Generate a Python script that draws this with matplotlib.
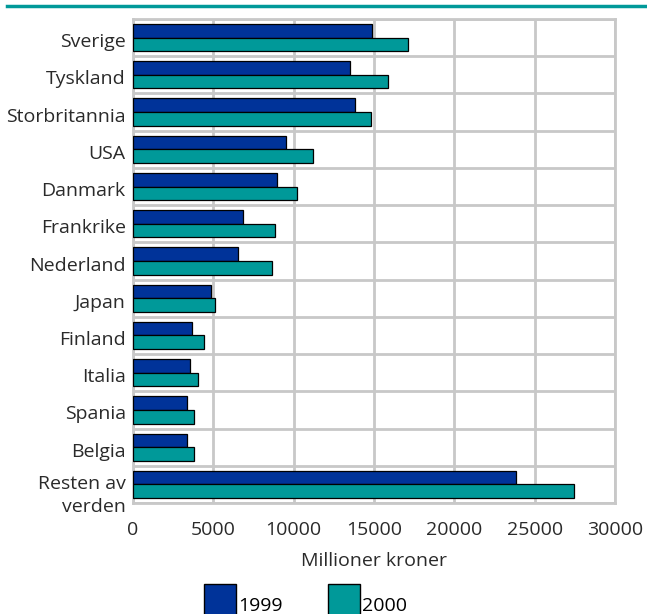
import matplotlib
matplotlib.use("Agg")
import matplotlib.pyplot as plt
import matplotlib.transforms as mtransforms
import numpy as np
from matplotlib.patches import Patch

plt.rcParams["font.family"] = ["Open Sans", "DejaVu Sans"]

# data (millioner kroner)
countries = ["Sverige", "Tyskland", "Storbritannia", "USA", "Danmark", "Frankrike",
             "Nederland", "Japan", "Finland", "Italia", "Spania", "Belgia",
             "Resten av\nverden"]
values_1999 = [14880, 13540, 13800, 9520, 8990, 6840, 6560, 4870, 3690, 3560, 3380, 3360, 23810]
values_2000 = [17100, 15850, 14820, 11210, 10190, 8830, 8660, 5100, 4460, 4050, 3840, 3820, 27450]
x_ticks = [0, 5000, 10000, 15000, 20000, 25000, 30000]

BLUE = "#003399"
TEAL = "#009999"
GRID = "#c8c8c8"
TXT = "#2a2a2a"
FS = 14

fig = plt.figure(figsize=(6.47, 6.14), dpi=100)
ax = fig.add_axes([0.205, 1 - 503 / 614, 0.746, (503 - 19) / 614])

# teal rule on top
fig.add_artist(plt.Line2D([7 / 647, 1], [1 - 6 / 614, 1 - 6 / 614], color=TEAL, lw=2.5))

y = np.arange(len(countries))
h = 0.365
ax.barh(y - h / 2, values_1999, height=h, color=BLUE, edgecolor="black", lw=0.9, zorder=3)
ax.barh(y + h / 2, values_2000, height=h, color=TEAL, edgecolor="black", lw=0.9, zorder=3)

ax.set_xlim(0, 30000)
ax.set_ylim(len(countries) - 0.5, -0.5)
ax.set_xticks(x_ticks)
ax.set_xticklabels([str(t) for t in x_ticks], fontsize=FS, color=TXT)
ax.set_yticks(y)
ylabels = ax.set_yticklabels(countries, fontsize=FS, color=TXT, linespacing=1.35)
ax.set_yticks(np.arange(len(countries) + 1) - 0.5, minor=True)
ax.tick_params(axis="both", which="both", length=0)
ax.tick_params(axis="y", pad=5)
ax.tick_params(axis="x", pad=13)

# labels sit slightly below the band centre in the original, the two-line one more so
# (done after tick_params, which resets the label transforms)
for i, lab in enumerate(ylabels):
    dy = -6.5 if i == len(ylabels) - 1 else -2.5
    lab.set_transform(lab.get_transform()
                      + mtransforms.ScaledTranslation(0, dy / 100, fig.dpi_scale_trans))

ax.grid(axis="x", which="major", color=GRID, lw=2, zorder=0)
ax.grid(axis="y", which="minor", color=GRID, lw=2, zorder=0)
for s in ax.spines.values():
    s.set_color(GRID)
    s.set_linewidth(2)

ax.set_xlabel("Millioner kroner", fontsize=FS, color=TXT, labelpad=9)

handles = [Patch(facecolor=BLUE, edgecolor="black", label="1999"),
           Patch(facecolor=TEAL, edgecolor="black", label="2000")]
fig.legend(handles=handles, loc="upper left", bbox_to_anchor=(204 / 647, 1 - 584 / 614),
           ncol=2, frameon=False, fontsize=FS, handlelength=1.65, handleheight=3.0,
           handletextpad=0.12, columnspacing=2.3, borderaxespad=0, borderpad=0)

fig.savefig("out.png", dpi=100)
